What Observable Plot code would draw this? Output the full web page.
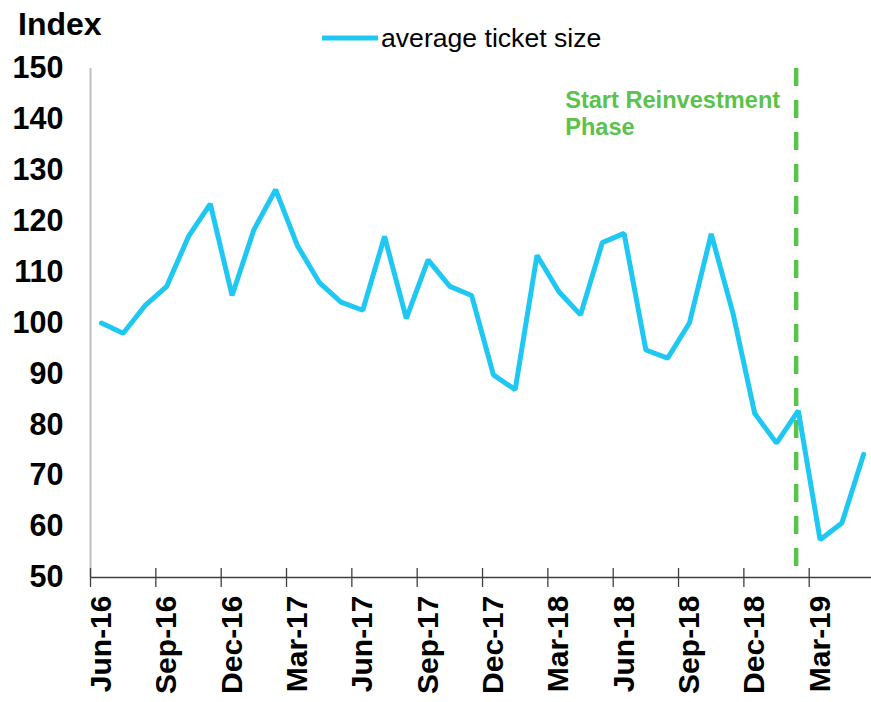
<!DOCTYPE html>
<html>
<head>
<meta charset="utf-8">
<script src="https://cdn.jsdelivr.net/npm/d3@7"></script>
<script src="https://cdn.jsdelivr.net/npm/@observablehq/plot@0.6"></script>
<style>
  html, body { margin: 0; padding: 0; background: #fff; }
  #wrap { position: relative; width: 871px; height: 702px; font-family: "Liberation Sans", Arial, sans-serif; }
  #index { position: absolute; left: 18px; top: 8px; font-size: 32px; font-weight: bold; line-height: 1; color: #000; }
  #legend { position: absolute; left: 322px; top: 25px; display: flex; align-items: center; font-size: 26.6px; color: #000; line-height: 1; }
  #legend svg { margin-right: 3px; }
  #chart { position: absolute; left: 0; top: 0; }
</style>
</head>
<body>
<div id="wrap">
  <div id="chart"></div>
  <div id="index">Index</div>
  <div id="legend"><svg width="56" height="10"><line x1="0" y1="5" x2="56" y2="5" stroke="#1fc7f3" stroke-width="5"/></svg><span>average ticket size</span></div>
</div>
<script>
// Months (Jun-16 .. May-19)
const months = ["Jun-16","Jul-16","Aug-16","Sep-16","Oct-16","Nov-16","Dec-16",
  "Jan-17","Feb-17","Mar-17","Apr-17","May-17","Jun-17","Jul-17","Aug-17","Sep-17","Oct-17","Nov-17","Dec-17",
  "Jan-18","Feb-18","Mar-18","Apr-18","May-18","Jun-18","Jul-18","Aug-18","Sep-18","Oct-18","Nov-18","Dec-18",
  "Jan-19","Feb-19","Mar-19","Apr-19","May-19"];
// average ticket size index
const values = [100, 98, 103.4, 107.2, 117, 123.4, 105.4,
  118.3, 126.2, 115.2, 108, 104.1, 102.5, 117, 100.9, 112.4, 107.2, 105.4, 89.8,
  86.9, 113.3, 106.2, 101.6, 115.8, 117.6, 94.7, 93.1, 100, 117.5, 101.9, 82.2,
  76.4, 82.8, 57.4, 60.7, 74.2];
// tick labels shown every third month
const labelMonths = ["Jun-16","Sep-16","Dec-16","Mar-17","Jun-17","Sep-17","Dec-17","Mar-18","Jun-18","Sep-18","Dec-18","Mar-19"];
const yTicks = [50, 60, 70, 80, 90, 100, 110, 120, 130, 140, 150];
// reinvestment phase start (between Jan-19 and Feb-19)
const phaseStart = [{pos: 31.9, label: "Start Reinvestment\nPhase"}];

const data = months.map((m, i) => ({i, month: m, value: values[i]}));
const labelIdx = labelMonths.map(m => months.indexOf(m));
const tickIdx = labelIdx.map(i => i - 0.5);

const font = "'Liberation Sans', Arial, sans-serif";
const green = "#5ac34b";

const chart = Plot.plot({
  width: 871,
  height: 702,
  marginTop: 68,
  marginBottom: 125,
  marginLeft: 90,
  marginRight: 0,
  style: {fontFamily: font, color: "#000", background: "transparent"},
  x: {type: "linear", domain: [-0.5, 35.36]},
  y: {domain: [50, 150]},
  marks: [
    Plot.ruleX([-0.5], {stroke: "#bfbfbf", strokeWidth: 2}),
    Plot.ruleY([50], {stroke: "#404040", strokeWidth: 1.3}),
    Plot.axisY({ticks: yTicks, tickSize: 0, tickPadding: 27, label: null, fontSize: 30.5, fontWeight: "bold", fill: "#000"}),
    Plot.axisX({ticks: tickIdx, tickSize: 10, tickFormat: () => "", label: null, stroke: "#404040", strokeWidth: 1.3}),
    Plot.axisX({ticks: tickIdx, tickSize: -9, tickFormat: () => "", label: null, stroke: "#404040", strokeWidth: 1.3}),
    Plot.axisX({ticks: labelIdx, tickSize: 0, tickPadding: 18, tickRotate: -90, tickFormat: i => months[i], label: null, fontSize: 30, fontWeight: "bold", fill: "#000"}),
    Plot.ruleX(phaseStart, {x: "pos", stroke: green, strokeWidth: 4.5, strokeDasharray: "18,14"}),
    Plot.text(phaseStart, {x: "pos", text: "label", frameAnchor: "top", textAnchor: "start", lineAnchor: "top", dx: -231, dy: 20, lineHeight: 1.15, fontSize: 23.6, fontWeight: "bold", fill: green}),
    Plot.line(data, {x: "i", y: "value", stroke: "#1fc7f3", strokeWidth: 5, strokeLinejoin: "miter"})
  ]
});
document.getElementById("chart").appendChild(chart);
</script>
</body>
</html>
